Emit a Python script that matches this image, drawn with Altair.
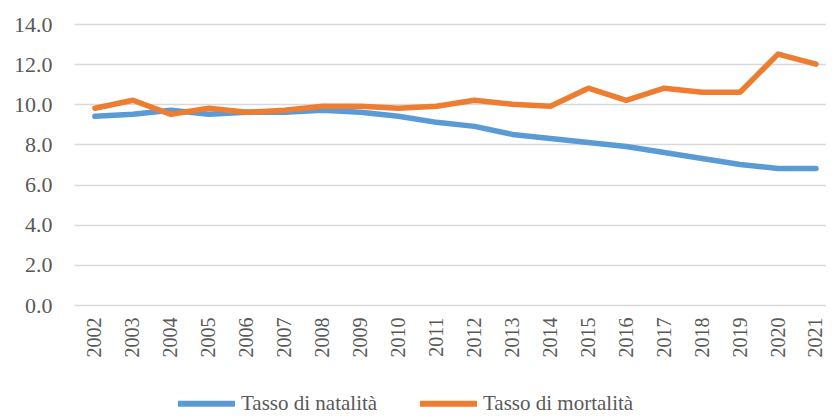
import altair as alt
import pandas as pd

years = [str(y) for y in range(2002, 2022)]
natalita = [9.4, 9.5, 9.7, 9.5, 9.6, 9.6, 9.7, 9.6, 9.4, 9.1, 8.9, 8.5, 8.3, 8.1, 7.9, 7.6, 7.3, 7.0, 6.8, 6.8]
mortalita = [9.8, 10.2, 9.5, 9.8, 9.6, 9.7, 9.9, 9.9, 9.8, 9.9, 10.2, 10.0, 9.9, 10.8, 10.2, 10.8, 10.6, 10.6, 12.5, 12.0]
series = ["Tasso di natalità", "Tasso di mortalità"]
colors = ["#5B9BD5", "#ED7D31"]
y_ticks = [0, 2, 4, 6, 8, 10, 12, 14]

rows = []
for name, vals in zip(series, [natalita, mortalita]):
    for y, v in zip(years, vals):
        rows.append({"Anno": y, "Valore": v, "Serie": name})
df = pd.DataFrame(rows)

FONT = "Liberation Serif"
GREY = "#595959"

chart = alt.Chart(df).mark_line(strokeWidth=5.5, strokeCap="round", strokeJoin="round").encode(
    x=alt.X("Anno:O", sort=years,
            scale=alt.Scale(type="point", padding=0.408, align=0.677),
            axis=alt.Axis(title=None, labelAngle=270, labelFont=FONT, labelFontSize=20,
                          labelColor=GREY, labelPadding=12, ticks=False, domain=False, grid=False)),
    y=alt.Y("Valore:Q",
            scale=alt.Scale(domain=[0, 14], nice=False),
            axis=alt.Axis(title=None, values=y_ticks, format=".1f", labelFont=FONT, labelFontSize=22,
                          labelColor=GREY, labelPadding=22, ticks=False, domain=False,
                          gridColor="#D9D9D9", gridWidth=1.5)),
    color=alt.Color("Serie:N", sort=series,
                    scale=alt.Scale(domain=series, range=colors),
                    legend=alt.Legend(title=None, orient="none", legendX=101, legendY=348,
                                      direction="horizontal", symbolType="stroke",
                                      symbolSize=3249, symbolStrokeWidth=6,
                                      labelFont=FONT, labelFontSize=21, labelColor=GREY,
                                      labelOffset=3, columnPadding=30)),
).properties(
    width=752, height=281,
    autosize=alt.AutoSizeParams(type="none"),
    padding={"left": 66, "top": 16, "right": 0, "bottom": 110},
).configure_view(stroke=None)

chart.save("out.html", embed_options={"renderer": "svg", "actions": False})
